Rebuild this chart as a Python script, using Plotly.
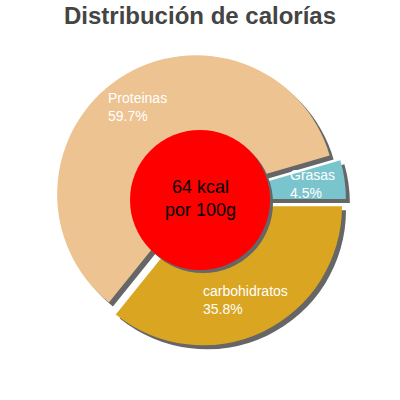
import math
import plotly.graph_objects as go

# reparto de calorias (porcentaje)
labels = ["carbohidratos", "Proteinas", "Grasas"]
values = [35.8, 59.7, 4.5]
colors = ["#DAA520", "#EDC391", "#7AC5CD"]
kcal_text = ["64 kcal", "por 100g"]

W = H = 400
cx, cy = 200, 200      # centro de la tarta (px)
r = 139                # radio (px)
pull = 0.05
half = r * (1 + pull)  # medio lado del dominio
sh = 4                 # desplazamiento de la sombra


def dom(dx=0, dy=0):
    return dict(x=[(cx - half + dx) / W, (cx + half + dx) / W],
                y=[1 - (cy + half + dy) / H, 1 - (cy - half + dy) / H])


fig = go.Figure()

# sombra
fig.add_trace(go.Pie(
    labels=labels, values=values, sort=False, direction="clockwise",
    rotation=90, pull=pull, domain=dom(sh, sh),
    marker=dict(colors=["#666666"] * 3, line=dict(width=0)),
    textinfo="none", hoverinfo="skip", showlegend=False))

fig.add_trace(go.Pie(
    labels=labels, values=values, sort=False, direction="clockwise",
    rotation=90, pull=pull, domain=dom(),
    marker=dict(colors=colors, line=dict(width=0)),
    textinfo="none", showlegend=False))

# etiquetas (nombre arriba, porcentaje abajo, alineados a la izquierda)
fs = 14
lab_font = dict(family="Liberation Sans, Arial", size=fs, color="white")
total = sum(values)
start = 0.0
for lab, v in zip(labels, values):
    ang = start - v / total * 180
    start -= v / total * 360
    rr = r * (pull + 0.75)
    px = cx + rr * math.cos(math.radians(ang))
    py = cy - rr * math.sin(math.radians(ang))
    pct = f"{v:.1f}%"
    left = px - max(len(lab), len(pct)) * fs * 0.5 / 2
    fig.add_annotation(x=left / W, y=1 - py / H, xref="paper", yref="paper",
                       text=f"{lab}<br>{pct}", showarrow=False, align="left",
                       xanchor="left", yanchor="middle", borderpad=0,
                       font=lab_font)

# circulo central
cr = 70
fig.add_shape(type="circle", xref="paper", yref="paper",
              x0=(cx - cr + 3) / W, x1=(cx + cr + 3) / W,
              y0=1 - (cy + cr + 3) / H, y1=1 - (cy - cr + 3) / H,
              fillcolor="#666666", line=dict(width=0))
fig.add_shape(type="circle", xref="paper", yref="paper",
              x0=(cx - cr) / W, x1=(cx + cr) / W,
              y0=1 - (cy + cr) / H, y1=1 - (cy - cr) / H,
              fillcolor="#FF0000", line=dict(width=0))

fig.add_annotation(x=0.5, y=1 - (cy - 2) / H, xref="paper", yref="paper",
                   text="<br>".join(kcal_text), showarrow=False,
                   xanchor="center", yanchor="middle", borderpad=0,
                   font=dict(family="Liberation Sans, Arial", size=18, color="black"))

fig.update_layout(
    width=W, height=H,
    margin=dict(l=0, r=0, t=0, b=0),
    paper_bgcolor="white", plot_bgcolor="white",
    title=dict(text="<b>Distribución de calorías</b>", x=0.5, xanchor="center",
               y=1 - 16 / H, yanchor="middle",
               font=dict(family="Liberation Sans, Arial", size=24, color="#444444")),
)

# sin margen del body para que la figura ocupe la ventana exacta
fig.write_html("out.html", config={"displayModeBar": False},
               post_script="document.body.style.margin='0';")
